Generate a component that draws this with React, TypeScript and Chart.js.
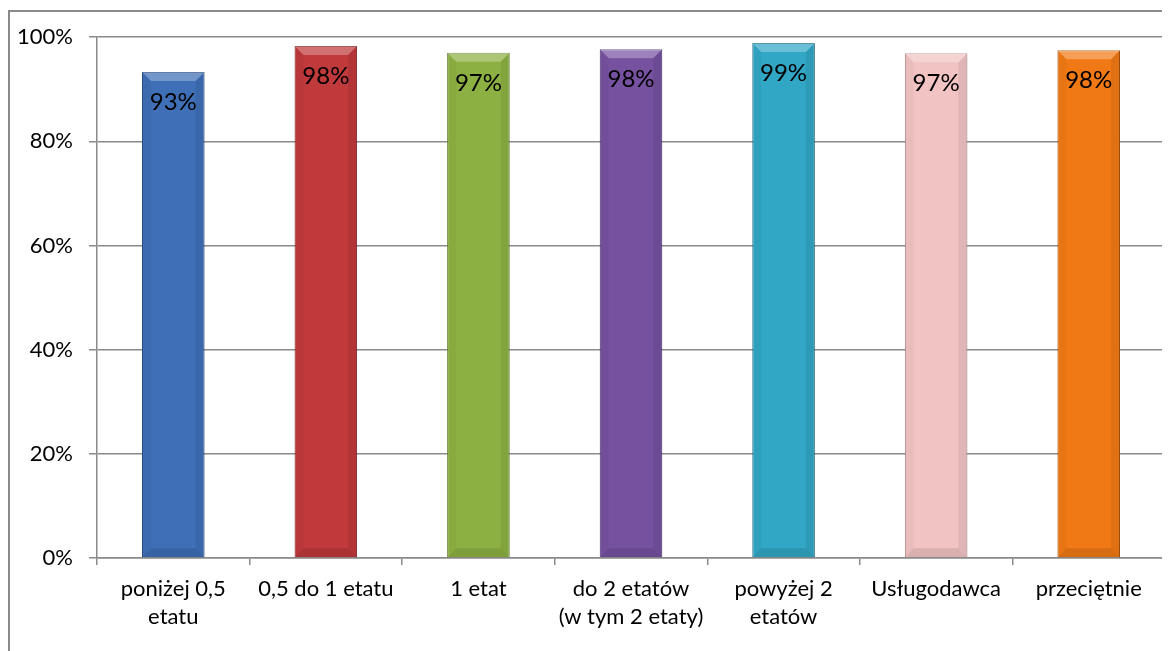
import React, { useEffect, useRef } from "react";
import { Chart, registerables } from "chart.js";

Chart.register(...registerables);

const categories: (string | string[])[] = [
  ["poniżej 0,5", "etatu"],
  "0,5 do 1 etatu",
  "1 etat",
  ["do 2 etatów", "(w tym 2 etaty)"],
  ["powyżej 2", "etatów"],
  "Usługodawca",
  "przeciętnie",
];
const values: number[] = [93.3, 98.3, 97.0, 97.7, 98.9, 96.9, 97.5];
const barColors: string[] = ["#3f6fb6", "#c0393b", "#8db042", "#7651a0", "#31a6c5", "#f2c3c3", "#f07915"];
const barBorders: string[] = ["#2a4c80", "#7e2224", "#5e7a27", "#4d3470", "#1d6e84", "#b08a8a", "#a34f0a"];
const yTicks: number[] = [0, 20, 40, 60, 80, 100];

const FONT = "Lato, 'Open Sans', sans-serif";
const GRID = "#8a8a8a";

const framePlugin = {
  id: "frame",
  beforeDraw(chart: any) {
    const { ctx, width, height } = chart;
    ctx.save();
    ctx.strokeStyle = GRID;
    ctx.lineWidth = 2;
    ctx.beginPath();
    ctx.moveTo(1, height);
    ctx.lineTo(1, 3);
    ctx.lineTo(width, 3);
    ctx.stroke();
    ctx.restore();
  },
};

const bevelPlugin = {
  id: "bevel",
  afterDatasetsDraw(chart: any) {
    const { ctx } = chart;
    const meta = chart.getDatasetMeta(0);
    ctx.save();
    meta.data.forEach((bar: any) => {
      const w = bar.width;
      const l = bar.x - w / 2;
      const r = bar.x + w / 2;
      const t = bar.y;
      const b = bar.base;
      const d = 9;
      ctx.fillStyle = "rgba(255,255,255,0.28)";
      ctx.beginPath();
      ctx.moveTo(l, t);
      ctx.lineTo(r, t);
      ctx.lineTo(r - d, t + d);
      ctx.lineTo(l + d, t + d);
      ctx.closePath();
      ctx.fill();
      ctx.fillStyle = "rgba(0,0,0,0.07)";
      ctx.beginPath();
      ctx.moveTo(r, t);
      ctx.lineTo(r, b);
      ctx.lineTo(r - d, b - d);
      ctx.lineTo(r - d, t + d);
      ctx.closePath();
      ctx.fill();
      ctx.fillStyle = "rgba(0,0,0,0.03)";
      ctx.beginPath();
      ctx.moveTo(l, t);
      ctx.lineTo(l, b);
      ctx.lineTo(l + d, b - d);
      ctx.lineTo(l + d, t + d);
      ctx.closePath();
      ctx.fill();
      ctx.fillStyle = "rgba(0,0,0,0.10)";
      ctx.beginPath();
      ctx.moveTo(l, b);
      ctx.lineTo(r, b);
      ctx.lineTo(r - d, b - d);
      ctx.lineTo(l + d, b - d);
      ctx.closePath();
      ctx.fill();
    });
    ctx.restore();
  },
};

const labelPlugin = {
  id: "barLabels",
  afterDatasetsDraw(chart: any) {
    const { ctx } = chart;
    const meta = chart.getDatasetMeta(0);
    ctx.save();
    ctx.font = `24px ${FONT}`;
    ctx.fillStyle = "#000";
    ctx.textAlign = "center";
    ctx.textBaseline = "middle";
    meta.data.forEach((bar: any, i: number) => {
      ctx.fillText(Math.round(values[i]) + "%", bar.x, bar.y + 30);
    });
    ctx.restore();
  },
};

export default function App() {
  const ref = useRef<HTMLCanvasElement>(null);
  useEffect(() => {
    if (!ref.current) return;
    const chart = new Chart(ref.current, {
      type: "bar",
      data: {
        labels: categories,
        datasets: [
          {
            data: values,
            backgroundColor: barColors,
            borderColor: barBorders,
            borderWidth: 1,
            barPercentage: 0.41,
            categoryPercentage: 1,
          },
        ],
      },
      options: {
        animation: false,
        responsive: false,
        layout: { padding: { top: 28, right: 5, left: 0, bottom: 0 } },
        plugins: { legend: { display: false }, tooltip: { enabled: false } },
        scales: {
          y: {
            min: 0,
            max: 100,
            afterBuildTicks: (scale: any) => {
              scale.ticks = yTicks.map((v) => ({ value: v }));
            },
            afterFit: (scale: any) => {
              scale.width = 89;
            },
            ticks: {
              color: "#000",
              font: { family: FONT, size: 22 },
              padding: 16,
              callback: (v: any) => v + "%",
            },
            grid: { color: GRID, lineWidth: 1.5, tickLength: 8 },
            border: { color: GRID, width: 1.5 },
          },
          x: {
            afterFit: (scale: any) => {
              scale.height = 93;
            },
            ticks: {
              color: "#000",
              font: { family: FONT, size: 22, lineHeight: 1.28 },
              padding: 10,
              maxRotation: 0,
              autoSkip: false,
            },
            grid: { display: true, drawOnChartArea: false, color: GRID, lineWidth: 1.5, tickLength: 7, offset: true },
            border: { color: GRID, width: 1.5 },
          },
        },
      },
      plugins: [framePlugin, bevelPlugin, labelPlugin],
    });
    return () => chart.destroy();
  }, []);
  return (
    <div style={{ width: 1162, height: 643 }}>
      <canvas ref={ref} width={1162} height={643} />
    </div>
  );
}
